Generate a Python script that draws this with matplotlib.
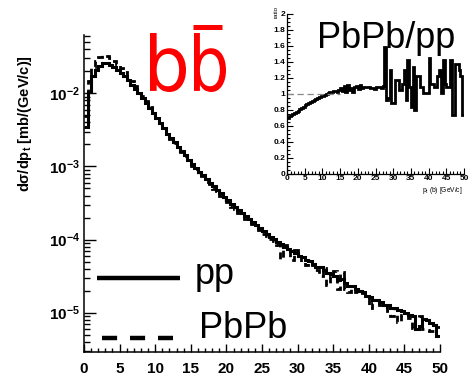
import numpy as np
import matplotlib
matplotlib.use('Agg')
import matplotlib.pyplot as plt
from matplotlib.ticker import MultipleLocator, LogLocator, NullFormatter, FuncFormatter
from matplotlib.textpath import TextPath
from matplotlib.patches import PathPatch
from matplotlib.font_manager import FontProperties
from matplotlib.lines import Line2D
import matplotlib.transforms as mtransforms

plt.rcParams['font.family'] = ['Liberation Sans', 'DejaVu Sans']
plt.rcParams['font.weight'] = 'bold'
plt.rcParams['mathtext.default'] = 'regular'

# ---------------- data ----------------
bin_edges = np.arange(0, 50.5, 0.5)

pp_log10 = [
    -2.46, -1.98, -1.77, -1.68, -1.62, -1.59, -1.59, -1.61, -1.64, -1.68,
    -1.72, -1.77, -1.82, -1.88, -1.94, -2.00, -2.06, -2.13, -2.20, -2.27,
    -2.34, -2.41, -2.48, -2.55, -2.61, -2.67, -2.73, -2.79, -2.85, -2.91,
    -2.96, -3.02, -3.07, -3.12, -3.17, -3.22, -3.27, -3.32, -3.37, -3.42,
    -3.46, -3.51, -3.55, -3.60, -3.64, -3.68, -3.72, -3.76, -3.80, -3.84,
    -3.88, -3.92, -3.96, -3.99, -4.03, -4.06, -4.10, -4.13, -4.16, -4.19,
    -4.22, -4.24, -4.28, -4.29, -4.33, -4.37, -4.38, -4.42, -4.46, -4.47,
    -4.50, -4.55, -4.54, -4.59, -4.63, -4.63, -4.68, -4.71, -4.72, -4.77,
    -4.78, -4.82, -4.82, -4.86, -4.89, -4.89, -4.93, -4.93, -4.97, -4.98,
    -5.00, -5.03, -5.05, -5.22, -5.18, -5.08, -5.10, -5.14, -5.17, -5.32,
]

# pp / PbPb ratio as drawn in the inset
ratio = [
    0.70, 0.72, 0.74, 0.75, 0.76, 0.78, 0.79, 0.81, 0.82, 0.84,
    0.86, 0.87, 0.89, 0.90, 0.91, 0.93, 0.94, 0.95, 0.96, 0.97,
    0.98, 0.99, 1.00, 1.01, 1.02, 1.03, 1.04, 1.04, 1.03, 1.05,
    1.08, 1.04, 1.10, 1.03, 1.11, 1.05, 1.08, 1.03, 1.09, 1.10,
    1.06, 1.11, 1.08, 1.09, 1.09, 1.09, 1.09, 1.07, 1.07, 1.06,
    1.09, 1.09, 1.09, 1.08, 1.10,
    1.59, 0.93, 0.95, 1.30, 0.89, 0.89, 1.18, 1.18, 1.05, 1.05,
    1.13, 1.30, 0.93, 1.43, 1.09, 0.84, 1.34, 0.80, 1.22, 1.22,
    1.09, 1.09, 1.01, 1.01, 1.01, 1.45, 1.13, 1.13, 1.09, 1.09,
    1.22, 1.30, 1.01, 1.43, 1.13, 1.09, 1.09, 1.43, 0.74, 0.74,
    1.38, 1.38, 1.30, 1.22, 0.74,
]

pp = 10.0 ** np.array(pp_log10)
ratio = np.array(ratio)
pbpb = pp / ratio

x_ticks = [0, 5, 10, 15, 20, 25, 30, 35, 40, 45, 50]
ratio_ticks = [0, 0.2, 0.4, 0.6, 0.8, 1, 1.2, 1.4, 1.6, 1.8, 2]

W, H = 471, 375
fig = plt.figure(figsize=(W / 100, H / 100), dpi=100)

# ---------------- main axes ----------------
ax = fig.add_axes([84 / W, 23 / H, 356 / W, 317 / H])
ax.stairs(pbpb, bin_edges, baseline=None, color='black', lw=2.0, linestyle=(0, (2.5, 1.8)))
ax.stairs(pp, bin_edges, baseline=None, color='black', lw=2.2)
ax.set_yscale('log')
ax.set_xlim(0, 50)
ax.set_ylim(2.9e-6, 6.27e-2)
for s in ['top', 'right']:
    ax.spines[s].set_visible(False)
for s in ['left', 'bottom']:
    ax.spines[s].set_linewidth(1.1)
ax.set_xticks(x_ticks)
ax.xaxis.set_minor_locator(MultipleLocator(1))
ax.yaxis.set_major_locator(LogLocator(base=10, numticks=20))
ax.yaxis.set_minor_locator(LogLocator(base=10, subs=np.arange(2, 10), numticks=20))
ax.yaxis.set_minor_formatter(NullFormatter())
ax.yaxis.set_major_formatter(FuncFormatter(lambda v, p: r'$10^{%d}$' % int(round(np.log10(v)))))
ax.tick_params(axis='x', which='major', direction='in', length=6, width=1, labelsize=11, pad=7)
ax.tick_params(axis='x', which='minor', direction='in', length=3, width=1)
ax.tick_params(axis='y', which='major', direction='in', length=8.5, width=1, labelsize=11, pad=3)
ax.tick_params(axis='y', which='minor', direction='in', length=4.3, width=1)

fig.text(25 / W, 1 - 124 / H, r'dσ/dp$_{t}$ [mb/(GeV/c)]', rotation=90,
         ha='center', va='center', fontsize=10.5, fontweight='bold')

# legend (drawn as in the original ROOT canvas)
fig.add_artist(Line2D([97 / W, 180 / W], [1 - 278 / H, 1 - 278 / H], color='black', lw=3.2,
                      solid_capstyle='butt'))
fig.add_artist(Line2D([102 / W, 173 / W], [1 - 338 / H, 1 - 338 / H], color='black', lw=3.2,
                      linestyle=(0, (3.4, 2.9)), dash_capstyle='butt'))
fig.text(195 / W, 1 - 284 / H, 'pp', fontsize=26, fontweight='normal', ha='left', va='baseline')
fig.text(199 / W, 1 - 338 / H, 'PbPb', fontsize=26, fontweight='normal', ha='left', va='baseline')

# red b bbar
to_fig = mtransforms.Affine2D().scale(1 / W, 1 / H) + fig.transFigure
fp = FontProperties(family='DejaVu Sans', weight='normal')


def place_glyph(ch, x0, x1, ytop, ybot):
    tp = TextPath((0, 0), ch, size=1, prop=fp)
    ext = tp.get_extents()
    sx = (x1 - x0) / ext.width
    sy = (ybot - ytop) / ext.height
    tr = mtransforms.Affine2D().translate(-ext.x0, -ext.y0).scale(sx, sy).translate(x0, H - ybot)
    fig.add_artist(PathPatch(tp, transform=tr + to_fig, color='#ff0000', lw=0))


place_glyph('b', 150, 186, 33, 92)
place_glyph('b', 194, 226, 33, 92)
fig.add_artist(Line2D([193 / W, 222 / W], [1 - 26.5 / H, 1 - 26.5 / H], color='#ff0000', lw=3.6,
                      solid_capstyle='butt'))

# ---------------- inset ----------------
ai = fig.add_axes([287 / W, (H - 174) / H, 177 / W, 160 / H])
ai.plot([0, 15], [1, 1], color='#888888', lw=0.9, linestyle=(0, (5, 3)))
ai.stairs(ratio, bin_edges, baseline=None, color='black', lw=2.0)
ai.set_xlim(0, 50)
ai.set_ylim(0, 2)
for s in ['top', 'right']:
    ai.spines[s].set_visible(False)
for s in ['left', 'bottom']:
    ai.spines[s].set_linewidth(0.9)
ai.set_xticks(x_ticks)
ai.set_yticks(ratio_ticks)
ai.set_yticklabels(['0', '0.2', '0.4', '0.6', '0.8', '1', '1.2', '1.4', '1.6', '1.8', '2'])
ai.xaxis.set_minor_locator(MultipleLocator(1))
ai.yaxis.set_minor_locator(MultipleLocator(0.05))
ai.tick_params(axis='both', which='major', direction='in', length=4, width=0.8, labelsize=6, pad=1)
ai.tick_params(axis='both', which='minor', direction='in', length=2, width=0.8)
ai.text(0.17, 0.79, 'PbPb/pp', transform=ai.transAxes, fontsize=26, fontweight='normal',
        ha='left', va='baseline')
fig.text(276 / W, 1 - 12 / H, 'ratio', rotation=90, fontsize=4.5, fontweight='normal',
         ha='center', va='center')
fig.text(463 / W, 1 - 190 / H, r'p$_{t}$ (b) [GeV/c]', fontsize=4.8, fontweight='normal',
         ha='right', va='center')

fig.savefig('out.png', dpi=100)
